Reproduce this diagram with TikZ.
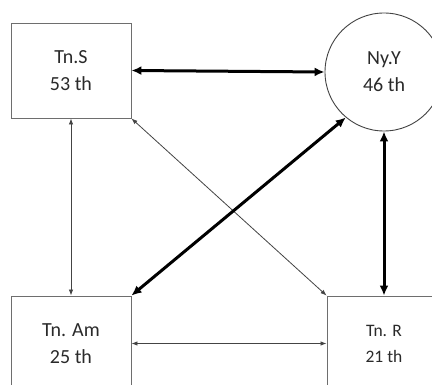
\documentclass[tikz,border=0pt]{standalone}
\usepackage{fontspec}
\setmainfont{Carlito}
\usetikzlibrary{arrows.meta}
\definecolor{boxgray}{HTML}{6E6E6E}
\definecolor{txtgray}{HTML}{2A2A2A}
\definecolor{thingray}{HTML}{444444}
\begin{document}
\begin{tikzpicture}[x=1pt,y=-1pt,
  box/.style={draw=boxgray,line width=0.9pt,rectangle,minimum width=120pt,minimum height=95pt,
    align=center,text=txtgray,font=\fontsize{20}{27}\selectfont,inner sep=0pt},
  circ/.style={draw=thingray,line width=0.9pt,circle,minimum size=118pt,
    align=center,text=txtgray,font=\fontsize{20}{27}\selectfont,inner sep=0pt},
  thick arrow/.style={line width=3pt,black,{Latex[length=10pt,width=9pt]}-{Latex[length=10pt,width=9pt]}},
  thin arrow/.style={line width=0.8pt,thingray,{Latex[length=6pt,width=4.5pt]}-{Latex[length=6pt,width=4.5pt]}}]
\useasboundingbox (0,0) rectangle (432,385);
\clip (0,0) rectangle (432,385);
\fill[white] (0,0) rectangle (432,385);
\node[box] (S) at (71,70.5) {Tn.S\\53 th};
\node[circ] (Y) at (384,72) {Ny.Y\\46 th};
\node[box] (Am) at (71,343.5) {Tn. Am\\25 th};
\node[box,minimum width=114pt,font=\fontsize{17.5}{26}\selectfont] (R) at (384,343.5) {Tn. R\\21 th};
\draw[thick arrow] (S.east) -- (Y.west);
\draw[thin arrow] (S.south) -- (Am.north);
\draw[thin arrow] (S.south east) -- (R.north west);
\draw[thick arrow] (Am.north east) -- (Y.230);
\draw[thick arrow] (Y.south) -- (R.north);
\draw[thin arrow] (Am.east) -- (R.west);
\end{tikzpicture}
\end{document}
